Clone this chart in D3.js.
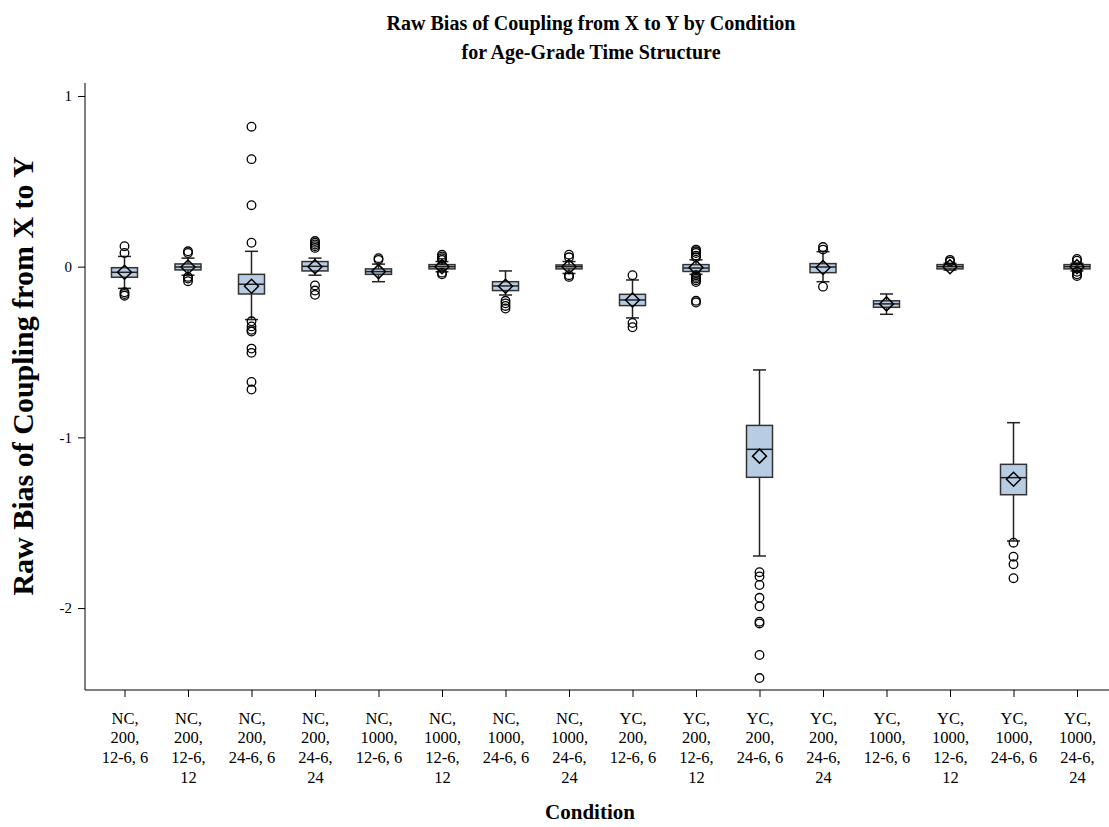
<!DOCTYPE html>
<html>
<head>
<meta charset="utf-8">
<script src="https://cdn.jsdelivr.net/npm/d3@7"></script>
<style>
  body { margin: 0; background: #fff; }
</style>
</head>
<body>
<script>
// condition labels
let categories = [
  "NC, 200, 12-6, 6", "NC, 200, 12-6, 12", "NC, 200, 24-6, 6", "NC, 200, 24-6, 24",
  "NC, 1000, 12-6, 6", "NC, 1000, 12-6, 12", "NC, 1000, 24-6, 6", "NC, 1000, 24-6, 24",
  "YC, 200, 12-6, 6", "YC, 200, 12-6, 12", "YC, 200, 24-6, 6", "YC, 200, 24-6, 24",
  "YC, 1000, 12-6, 6", "YC, 1000, 12-6, 12", "YC, 1000, 24-6, 6", "YC, 1000, 24-6, 24"
];

// box statistics
let whiskerHigh = [0.06, 0.05, 0.09, 0.05, 0.015, 0.03, -0.025, 0.03, -0.078, 0.04, -0.605, 0.088, -0.16, 0.02, -0.914, 0.02];
let q3          = [-0.006, 0.016, -0.045, 0.03, -0.013, 0.012, -0.088, 0.01, -0.162, 0.012, -0.93, 0.018, -0.2, 0.012, -1.158, 0.012];
let median      = [-0.033, -0.002, -0.103, 0.002, -0.029, 0, -0.113, 0, -0.195, -0.008, -1.07, -0.002, -0.218, 0, -1.236, 0];
let mean        = [-0.033, -0.002, -0.115, 0, -0.029, 0, -0.115, 0, -0.195, -0.005, -1.11, -0.005, -0.218, 0, -1.245, 0];
let q1          = [-0.062, -0.019, -0.16, -0.025, -0.045, -0.013, -0.14, -0.013, -0.228, -0.028, -1.234, -0.035, -0.238, -0.013, -1.336, -0.013];
let whiskerLow  = [-0.127, -0.05, -0.31, -0.05, -0.088, -0.03, -0.166, -0.04, -0.3, -0.045, -1.695, -0.088, -0.279, -0.02, -1.607, -0.025];

let outliers = [
  [0.12, 0.08, -0.15, -0.16, -0.17],
  [0.09, 0.08, -0.06, -0.07, -0.085],
  [0.82, 0.63, 0.36, 0.14, -0.32, -0.35, -0.37, -0.38, -0.48, -0.505, -0.675, -0.72],
  [0.15, 0.14, 0.13, 0.12, 0.11, -0.11, -0.14, -0.165],
  [0.05, 0.04],
  [0.07, 0.06, 0.05, 0.04, -0.035, -0.045],
  [-0.2, -0.215, -0.23, -0.245],
  [0.07, 0.055, -0.05, -0.06],
  [-0.05, -0.33, -0.355],
  [0.1, 0.09, 0.08, 0.065, 0.055, -0.05, -0.06, -0.07, -0.08, -0.09, -0.2, -0.21],
  [-1.79, -1.815, -1.865, -1.94, -1.99, -2.08, -2.09, -2.275, -2.41],
  [0.115, 0.1, -0.117],
  [],
  [0.04, 0.03],
  [-1.617, -1.699, -1.743, -1.825],
  [0.045, 0.035, -0.03, -0.045, -0.055]
];

let yTicks = [1, 0, -1, -2];

let width = 1109, height = 827;
let plotLeft = 85, plotTop = 83, plotBottom = 690;
let serif = "'Liberation Serif', 'Times New Roman', serif";

let svg = d3.select("body").append("svg")
  .attr("width", width)
  .attr("height", height)
  .attr("font-family", serif);

let x = d3.scalePoint()
  .domain(categories)
  .range([124.5, 1077]);

let y = d3.scaleLinear()
  .domain([-2.48, 1.076])
  .range([plotBottom, plotTop]);

// axes
let yAxis = svg.append("g")
  .attr("transform", "translate(" + plotLeft + ",0)")
  .call(d3.axisLeft(y).tickValues(yTicks).tickSize(7).tickPadding(6).tickFormat(function(d) { return String(d); }))
  .attr("font-family", serif);
yAxis.select(".domain").attr("d", "M0," + plotTop + "V" + plotBottom).attr("stroke", "#000");
yAxis.selectAll("text").attr("font-size", 15).attr("fill", "#000");

let xAxis = svg.append("g")
  .attr("transform", "translate(0," + plotBottom + ")")
  .call(d3.axisBottom(x).tickSize(7).tickPadding(15))
  .attr("font-family", serif);
xAxis.select(".domain").attr("d", "M" + plotLeft + ",0H" + width).attr("stroke", "#000");
xAxis.selectAll("text").attr("font-size", 16.5).attr("fill", "#000")
  .each(function(d) {
    let t = d3.select(this);
    let words = d.split(" ");
    t.text(null);
    let lines = [], cur = "";
    let probe = t.append("tspan");
    words.forEach(function(w) {
      let test = cur ? cur + " " + w : w;
      probe.text(test);
      if (cur && probe.node().getComputedTextLength() > 52) {
        lines.push(cur);
        cur = w;
      } else {
        cur = test;
      }
    });
    lines.push(cur);
    probe.remove();
    lines.forEach(function(l, i) {
      t.append("tspan").attr("x", 0).attr("dy", i === 0 ? "0.71em" : 19.7).text(l);
    });
  });

// boxes
let boxW = 26, capW = 13;
let g = svg.selectAll(".box")
  .data(categories)
  .enter().append("g")
  .attr("class", "box")
  .attr("transform", function(d) { return "translate(" + x(d) + ",0)"; });

g.append("line")
  .attr("y1", function(d, i) { return y(whiskerHigh[i]); })
  .attr("y2", function(d, i) { return y(whiskerLow[i]); })
  .attr("stroke", "#222").attr("stroke-width", 1.5);

g.append("line")
  .attr("x1", -capW / 2).attr("x2", capW / 2)
  .attr("y1", function(d, i) { return y(whiskerHigh[i]); })
  .attr("y2", function(d, i) { return y(whiskerHigh[i]); })
  .attr("stroke", "#222").attr("stroke-width", 1.5);

g.append("line")
  .attr("x1", -capW / 2).attr("x2", capW / 2)
  .attr("y1", function(d, i) { return y(whiskerLow[i]); })
  .attr("y2", function(d, i) { return y(whiskerLow[i]); })
  .attr("stroke", "#222").attr("stroke-width", 1.5);

g.append("rect")
  .attr("x", -boxW / 2)
  .attr("width", boxW)
  .attr("y", function(d, i) { return y(q3[i]); })
  .attr("height", function(d, i) { return y(q1[i]) - y(q3[i]); })
  .attr("fill", "#b8cce4")
  .attr("stroke", "#333").attr("stroke-width", 1.5);

g.append("line")
  .attr("x1", -boxW / 2).attr("x2", boxW / 2)
  .attr("y1", function(d, i) { return y(median[i]); })
  .attr("y2", function(d, i) { return y(median[i]); })
  .attr("stroke", "#222").attr("stroke-width", 1.5);

g.append("path")
  .attr("d", function(d, i) {
    let cy = y(mean[i]), r = 7;
    return "M0," + (cy - r) + "L" + r + "," + cy + "L0," + (cy + r) + "L" + (-r) + "," + cy + "Z";
  })
  .attr("fill", "none")
  .attr("stroke", "#000").attr("stroke-width", 1.5);

g.selectAll("circle")
  .data(function(d, i) { return outliers[i]; })
  .enter().append("circle")
  .attr("cy", function(v) { return y(v); })
  .attr("r", 4.3)
  .attr("fill", "none")
  .attr("stroke", "#000").attr("stroke-width", 1.3);

// titles
svg.append("text")
  .attr("x", 591).attr("y", 30)
  .attr("text-anchor", "middle")
  .attr("font-size", 20).attr("font-weight", "bold")
  .text("Raw Bias of Coupling from X to Y by Condition");
svg.append("text")
  .attr("x", 591).attr("y", 59)
  .attr("text-anchor", "middle")
  .attr("font-size", 20).attr("font-weight", "bold")
  .text("for Age-Grade Time Structure");

svg.append("text")
  .attr("transform", "translate(33,376) rotate(-90)")
  .attr("text-anchor", "middle")
  .attr("font-size", 30).attr("font-weight", "bold")
  .text("Raw Bias of Coupling from X to Y");

svg.append("text")
  .attr("x", 590).attr("y", 819)
  .attr("text-anchor", "middle")
  .attr("font-size", 21).attr("font-weight", "bold")
  .text("Condition");
</script>
</body>
</html>
